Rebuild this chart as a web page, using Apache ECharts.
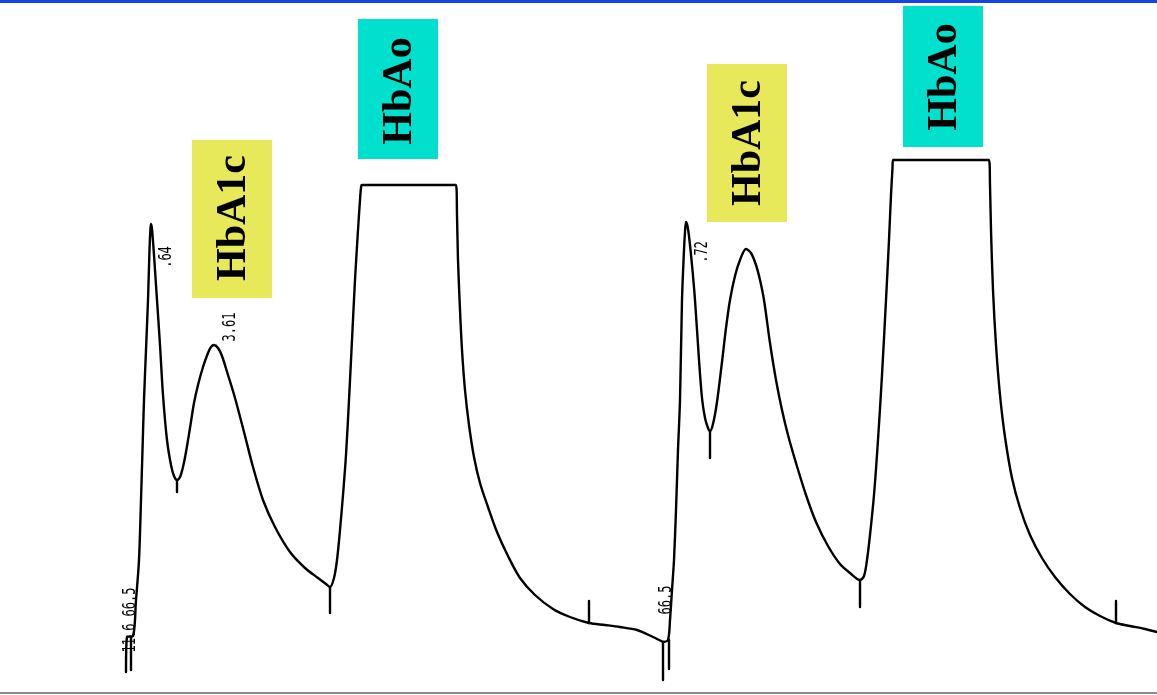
<!DOCTYPE html>
<html>
<head>
<meta charset="utf-8">
<script src="https://cdn.jsdelivr.net/npm/echarts@6/dist/echarts.min.js"></script>
<style>
html,body{margin:0;padding:0;background:#fff;}
#c{width:1157px;height:695px;}
</style>
</head>
<body>
<div id="c"></div>
<script>
// Chromatogram run 1 (retention time units, detector signal units)
const run1Time = [126,127,133,136,139,141,142.5,144,146,148,149.5,150.5,151,152,153.5,155,157,160,163,167,171,174,177,180,183,186,190,194,198,203,208,211,214,218,222,228,235,244,253,263,275,290,305,318,326,330,334,337,340,343,346,349,352,355,358,360,361,362,456,457,458,460,462,465,469,474,480,488,497,508,520,535,553,570,589,605,620,637,653,663];
const run1Signal = [23,58,59,95,135,195,245,295,345,395,445,467,471,466,447,425,395,350,300,255,230,219,215,218,228,243,267,292,310,328,342,348,350,347,339,320,297,263,228,195,168,143,127,117,111,108,117,135,165,200,240,295,355,415,465,495,507,510,510,480,435,385,345,305,270,238,212,188,163,139,117,100,86,78,72,70,68,65,58,53];

// Chromatogram run 2
const run2Time = [663,668,670,672,674,676,678,680,682,684,685,686,687.5,689,692,695,699,702,705,708,710,713,717,722,726,730,735,740,746,751,756,760,764,770,776,782,788,796,806,816,828,840,850,860,864,867,870,874,878,882,886,889,891,892.5,893,989,990,991,993,996,1000,1005,1012,1020,1030,1042,1055,1070,1085,1100,1116,1130,1145,1157];
const run2Signal = [53,55,75,105,135,185,245,295,395,445,463,473,469,459,430,395,335,297,277,267,264,271,293,333,367,395,419,435,446,442,430,415,395,352,315,285,260,232,200,173,149,131,122,115,119,135,160,200,255,320,395,455,500,527,535,535,510,465,405,350,300,258,217,187,160,137,118,101,88,79,72,69,66,63];

// Integration event marks: time, signal start, signal end
const markTime  = [131,177,330,589,663,669,710,860,1116];
const markStart = [58,215,108,94,53,55,264,115,94];
const markEnd   = [25,203,82,72,15,26,237,88,72];

// Peak annotations
const peakNames = ['HbA1c','HbAo','HbA1c','HbAo'];
const peakValueLabels = ['.64','3.61','.72'];
const startLabels = ['11.6 66.5','66.5'];

const W = 1157, H = 695;
const chart = echarts.init(document.getElementById('c'), null, {renderer:'canvas'});

function zip(a,b){return a.map((v,i)=>[v,b[i]]);}

const series = [
  {type:'line', data: zip(run1Time, run1Signal), smooth:0.3},
  {type:'line', data: zip(run2Time, run2Signal), smooth:0.3}
];
markTime.forEach((t,i)=>{
  series.push({type:'line', data:[[t,markStart[i]],[t,markEnd[i]]]});
});
series.forEach(s=>{
  s.symbol='none'; s.silent=true; s.animation=false;
  s.lineStyle={color:'#000', width:2.4, join:'round', cap:'round'};
});

function box(x,y,w,h,fill){
  return {type:'rect', shape:{x:x,y:y,width:w,height:h}, style:{fill:fill}, z:1};
}
function vtext(txt,x,y,font,sy){
  return {type:'text', x:x, y:y, rotation:Math.PI/2, scaleY: sy||1, z:5,
    style:{text:txt, font:font, fill:'#000', align:'center', verticalAlign:'middle'}};
}
const bigFont = 'bold 42px "Liberation Serif", "DejaVu Serif", serif';
const smallFont = '12px "DejaVu Sans Mono", "Liberation Mono", monospace';

const graphic = [
  {type:'rect', shape:{x:0,y:0,width:W,height:3}, style:{fill:'#1444e6'}, z:6},
  {type:'rect', shape:{x:0,y:692,width:W,height:2}, style:{fill:'#8a8a8a'}, z:6},
  box(192,140,80,158,'#e8e95a'),
  box(358,19,80,140,'#00e0cc'),
  box(707,64,80,158,'#e8e95a'),
  box(903,6,80,141,'#00e0cc'),
  vtext(peakNames[0],234,218,bigFont),
  vtext(peakNames[1],400,91,bigFont),
  vtext(peakNames[2],749,143,bigFont),
  vtext(peakNames[3],945,77,bigFont),
  vtext(peakValueLabels[0],167,257,smallFont,1.4),
  vtext(peakValueLabels[1],231,327,smallFont,1.4),
  vtext(peakValueLabels[2],703,252,smallFont,1.4),
  vtext(startLabels[0],131,620,smallFont,1.4),
  vtext(startLabels[1],667,600,smallFont,1.4)
];

chart.setOption({
  animation:false,
  backgroundColor:'#ffffff',
  grid:{left:0,right:0,top:0,bottom:0},
  xAxis:{type:'value', min:0, max:W, show:false},
  yAxis:{type:'value', min:0, max:H, show:false},
  series: series,
  graphic: graphic
});
</script>
</body>
</html>
